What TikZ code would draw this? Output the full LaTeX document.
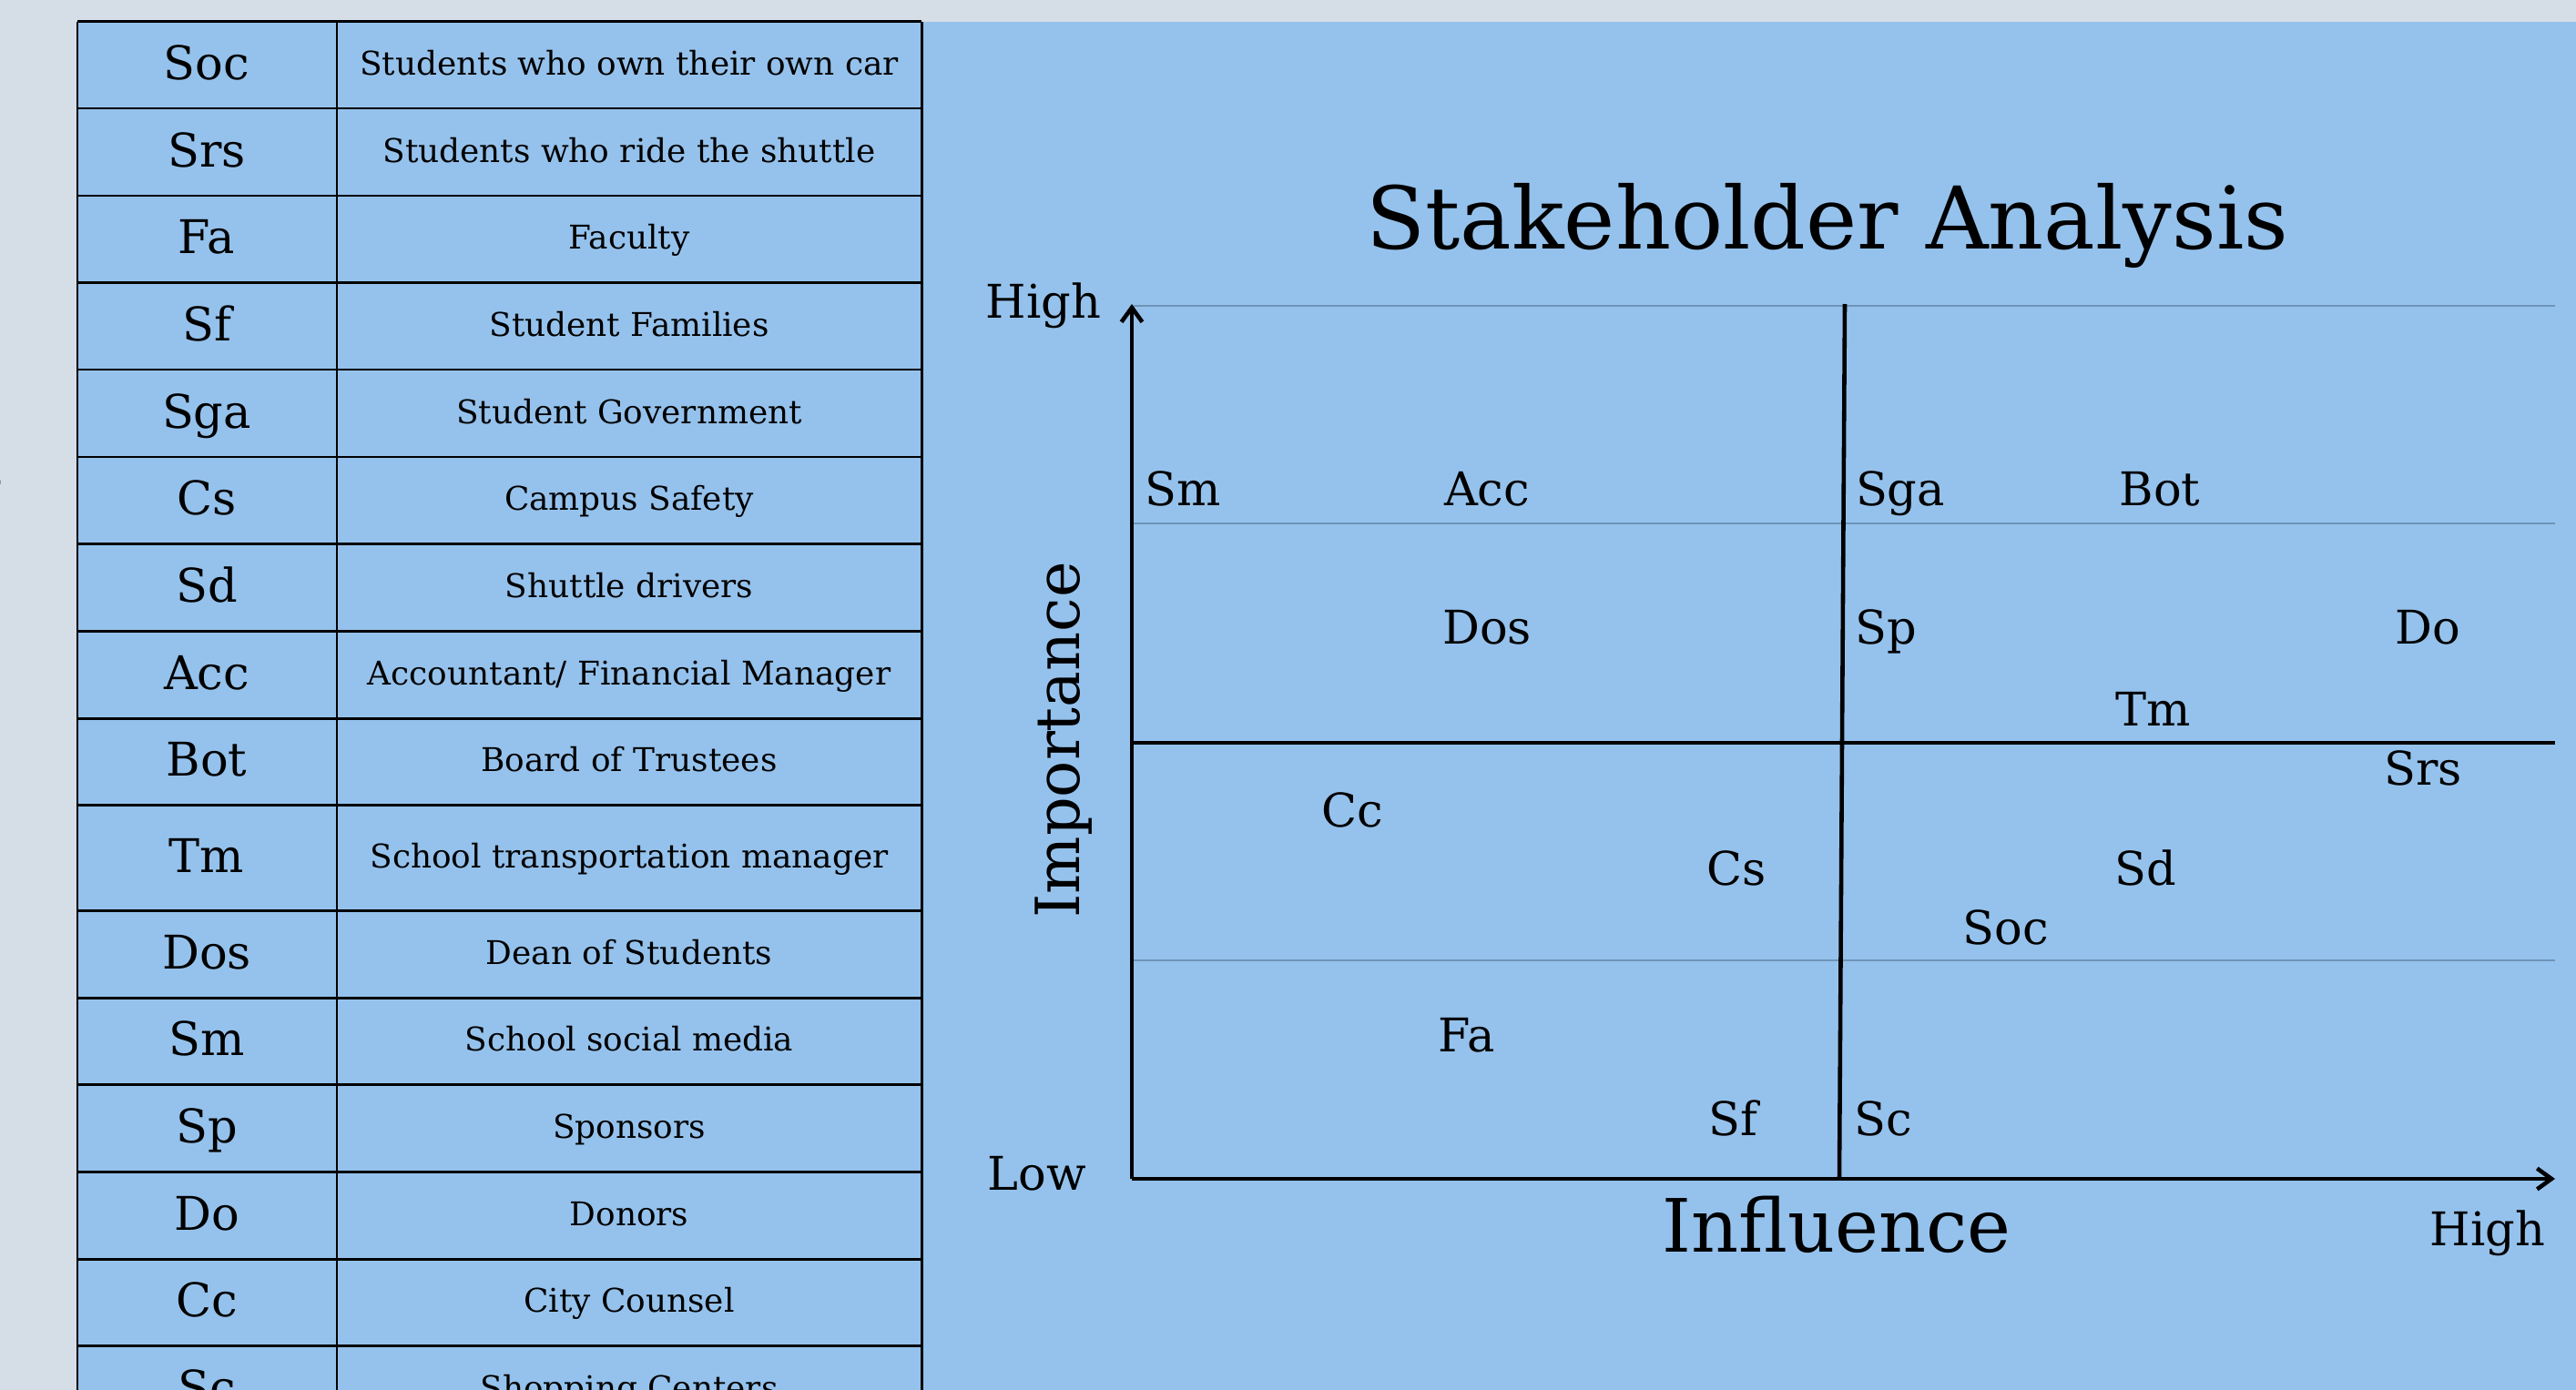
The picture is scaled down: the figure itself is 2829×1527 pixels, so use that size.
\documentclass[tikz,border=0pt]{standalone}
\usepackage{fontspec}
\setmainfont{DejaVu Serif}
\usetikzlibrary{arrows.meta}

\definecolor{pagegray}{HTML}{D5DDE7}
\definecolor{chartblue}{HTML}{95C2EC}
\definecolor{gridblue}{HTML}{6F94B9}

\begin{document}
\begin{tikzpicture}[x=0.01cm, y=-0.01cm,
        tabline/.style={line width=0.85pt, black},
        abbr/.style={anchor=base, inner sep=0pt, font=\fontsize{14.5}{17}\selectfont},
        desc/.style={anchor=base, inner sep=0pt, font=\fontsize{10.2}{12}\selectfont},
        stake/.style={anchor=base, inner sep=0pt, font=\fontsize{14.5}{17}\selectfont},
        axname/.style={anchor=base, inner sep=0pt, font=\fontsize{23}{27}\selectfont},
        axisline/.style={line width=1.3pt, black},
        guide/.style={line width=0.7pt, gridblue},
        axistip/.style={-{Straight Barb[length=4.5pt,width=6.5pt]}}]
    \path[use as bounding box, clip] (0,0) rectangle (2829,1527);
    \fill[pagegray] (0,0) rectangle (2829,1527);
    \fill[chartblue] (85,23.5) rectangle (2829,1527);
    \node[stake, anchor=base east, text=black!70] (cut) at (4,537) {s};

    % legend table
    \foreach \y in {23.5,119,215,310.5,406,502,597.5,693,789,884.5,1000,1096,1191,1287,1383,1478}
        \draw[tabline] (85,\y) -- (1012,\y);
    \draw[tabline] (85,23.5) -- (85,1540);
    \draw[tabline] (370,23.5) -- (370,1540);
    \draw[tabline] (1012,23.5) -- (1012,1540);
    \foreach \ab/\de/\y in {Soc/Students who own their own car/71.3,
            Srs/Students who ride the shuttle/167,
            Fa/Faculty/262.8,
            Sf/Student Families/358.3,
            Sga/Student Government/454,
            Cs/Campus Safety/549.8,
            Sd/Shuttle drivers/645.3,
            Acc/{Accountant/ Financial Manager}/741,
            Bot/Board of Trustees/836.8,
            Tm/School transportation manager/942.3,
            Dos/Dean of Students/1048,
            Sm/School social media/1143.5,
            Sp/Sponsors/1239,
            Do/Donors/1335,
            Cc/City Counsel/1430.5,
            Sc/Shopping Centers/1526}{
        \node[abbr] (ab-\ab) at (227,\y+16) {\ab};
        \node[desc] (de-\ab) at (691,\y+11) {\de};
    }

    % grid
    \coordinate (o) at (1243,1295);
    \coordinate (ytop) at (1243,334);
    \coordinate (xend) at (2806,1295);
    \coordinate (ml) at (1243,816);
    \coordinate (mr) at (2806,816);
    \coordinate (dt) at (2026,334);
    \coordinate (db) at (2020,1295);
    \foreach \y in {336,575,1055}
        \draw[guide] (1245,\y) -- (2806,\y);
    \draw[axisline] (ml) -- (mr);
    \draw[axisline] (dt) -- (db);
    \draw[axisline, axistip] (o) -- (ytop);
    \draw[axisline, axistip] (o) -- (xend);

    \node[anchor=base, inner sep=0pt, font=\fontsize{27}{32}\selectfont] (title) at (2007,273) {Stakeholder Analysis};
    \node[axname] (infl) at (2017,1375) {Influence};
    \node[axname, rotate=90, font=\fontsize{19}{22}\selectfont] (imp) at (1185,813) {Importance};
    \node[stake] (yhigh) at (1146,349) {High};
    \node[stake] (low) at (1139,1307) {Low};
    \node[stake] (xhigh) at (2732,1368) {High};

    % stakeholders
    \node[stake] (sm) at (1299,555) {Sm};
    \node[stake] (acc) at (1633,555) {Acc};
    \node[stake] (sga) at (2087,555) {Sga};
    \node[stake] (bot) at (2372,555) {Bot};
    \node[stake] (dos) at (1633,707) {Dos};
    \node[stake] (sp) at (2071,707) {Sp};
    \node[stake] (do) at (2666,707) {Do};
    \node[stake] (tm) at (2365,797) {Tm};
    \node[stake] (srs) at (2661,862) {Srs};
    \node[stake] (cc) at (1485,908) {Cc};
    \node[stake] (cs) at (1907,972) {Cs};
    \node[stake] (sd) at (2356,972) {Sd};
    \node[stake] (soc) at (2203,1037) {Soc};
    \node[stake] (fa) at (1611,1155) {Fa};
    \node[stake] (sf) at (1903,1247) {Sf};
    \node[stake] (sc) at (2068,1247) {Sc};
\end{tikzpicture}
\end{document}
